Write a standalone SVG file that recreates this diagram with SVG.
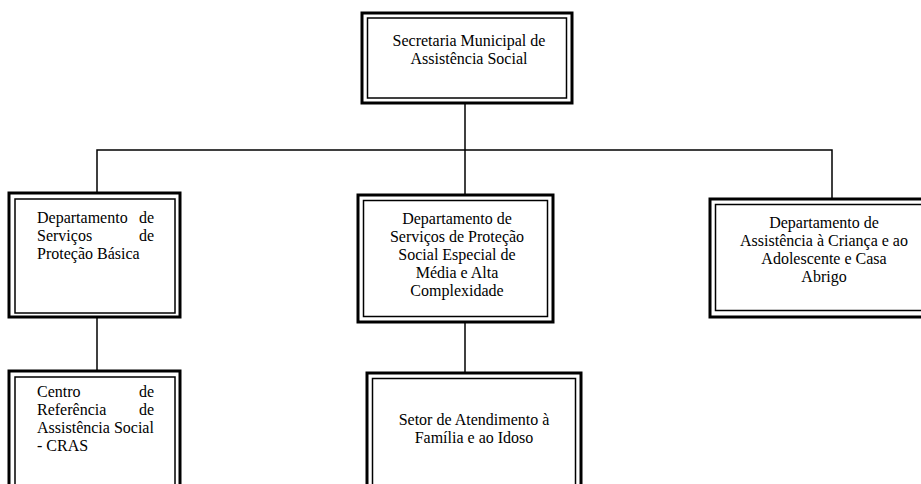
<svg xmlns="http://www.w3.org/2000/svg" width="921" height="484" viewBox="0 0 921 484">
  <style>
    .bg { fill: #ffffff; }
    .outer { fill: #ffffff; stroke: #000000; stroke-width: 3; }
    .inner { fill: none; stroke: #000000; stroke-width: 1.5; }
    .link { fill: none; stroke: #000000; stroke-width: 1.5; }
    text { font-family: "Liberation Serif", "Times New Roman", serif; font-size: 16px; fill: #000000; }
    .c { text-anchor: middle; }
    .e { text-anchor: end; }
  </style>
  <rect class="bg" x="0" y="0" width="921" height="484"/>

  <!-- hierarchy lines -->
  <g id="connectors">
    <path class="link" d="M465,103 V195"/>
    <path class="link" d="M97,193 V150 H832 V199"/>
    <path class="link" d="M97,317 V371"/>
    <path class="link" d="M465,322 V373"/>
  </g>

  <!-- top level -->
  <g id="secretaria">
    <rect class="outer" x="362" y="13" width="210" height="90"/>
    <rect class="inner" x="367.5" y="18" width="199" height="80"/>
    <text class="c" x="469" y="46">Secretaria Municipal de</text>
    <text class="c" x="469" y="64">Assistência Social</text>
  </g>

  <!-- departments -->
  <g id="dep-basica">
    <rect class="outer" x="9" y="193" width="171" height="124"/>
    <rect class="inner" x="15" y="199" width="160" height="114"/>
    <text x="37" y="223">Departamento</text>
    <text class="e" x="154" y="223">de</text>
    <text x="37" y="241">Serviços</text>
    <text class="e" x="154" y="241">de</text>
    <text x="37" y="259">Proteção Básica</text>
  </g>

  <g id="dep-especial">
    <rect class="outer" x="358" y="195" width="195" height="127"/>
    <rect class="inner" x="363.5" y="200.5" width="184" height="116"/>
    <text class="c" x="457" y="224">Departamento de</text>
    <text class="c" x="457" y="242">Serviços de Proteção</text>
    <text class="c" x="457" y="260">Social Especial de</text>
    <text class="c" x="457" y="278">Média e Alta</text>
    <text class="c" x="457" y="296">Complexidade</text>
  </g>

  <g id="dep-crianca">
    <rect class="outer" x="710" y="199" width="214" height="118"/>
    <rect class="inner" x="715.5" y="204.5" width="210" height="106"/>
    <text class="c" x="824" y="228">Departamento de</text>
    <text class="c" x="824" y="246">Assistência à Criança e ao</text>
    <text class="c" x="824" y="264">Adolescente e Casa</text>
    <text class="c" x="824" y="282">Abrigo</text>
  </g>

  <!-- services -->
  <g id="cras">
    <rect class="outer" x="9" y="371" width="171" height="124"/>
    <rect class="inner" x="15" y="377" width="160" height="114"/>
    <text x="37" y="397">Centro</text>
    <text class="e" x="154" y="397">de</text>
    <text x="37" y="415">Referência</text>
    <text class="e" x="154" y="415">de</text>
    <text x="37" y="433">Assistência Social</text>
    <text x="37" y="451">- CRAS</text>
  </g>

  <g id="setor-familia">
    <rect class="outer" x="367" y="373" width="214" height="124"/>
    <rect class="inner" x="372.5" y="378.5" width="203" height="114"/>
    <text class="c" x="474" y="425">Setor de Atendimento à</text>
    <text class="c" x="474" y="443">Família e ao Idoso</text>
  </g>
</svg>
